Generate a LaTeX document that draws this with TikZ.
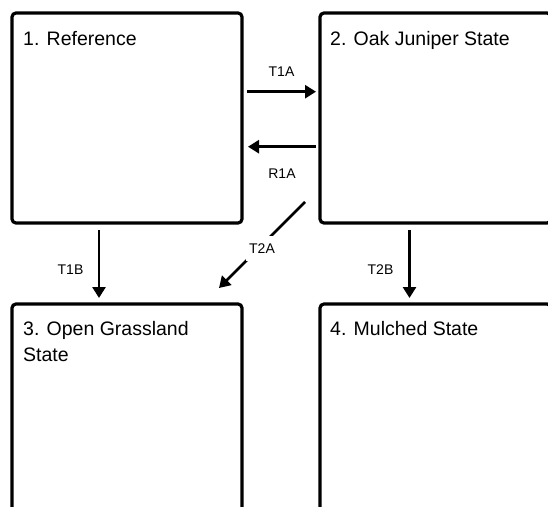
\documentclass[tikz,border=0pt]{standalone}
\usepackage{fontspec}
\setmainfont{Liberation Sans}
\usetikzlibrary{arrows.meta}
\tikzset{
  statebox/.style={draw=black, line width=3.2pt, rounded corners=4pt, rectangle,
    minimum width=230pt, minimum height=210pt, inner sep=0pt, outer sep=0pt},
  title/.style={anchor=north west, inner sep=0pt, align=left,
    font=\fontsize{19.5}{26}\selectfont},
  arr/.style={line width=2.6pt, -{Triangle[length=11pt,width=13pt]}},
  lbl/.style={font=\fontsize{14}{16}\selectfont, inner sep=0pt}
}
\begin{document}
\begin{tikzpicture}[x=1pt, y=-1pt]
\useasboundingbox (0,0) rectangle (548,506);
\clip (0,0) rectangle (548,506);
\fill[white] (0,0) rectangle (548,506);
% boxes
\node[statebox] (b1) at (127,118) {};
\node[statebox, minimum width=231pt] (b2) at (435.5,118) {};
\node[statebox] (b3) at (127,409) {};
\node[statebox, minimum width=231pt] (b4) at (435.5,409) {};
% titles
\node[title] (t1) at ([shift={(11,18)}]b1.north west) {1. Reference};
\node[title] (t2) at ([shift={(10,18)}]b2.north west) {2. Oak Juniper State};
\node[title] (t3) at ([shift={(11,17)}]b3.north west) {3. Open Grassland\\State};
\node[title] (t4) at ([shift={(10,17)}]b4.north west) {4. Mulched State};
% connectors
\draw[arr] ([shift={(5,78.7)}]b1.north east) -- ([shift={(-4,78.7)}]b2.north west)
  node[lbl, midway, anchor=base, yshift=15.7pt] (l1) {T1A};
\draw[arr] ([shift={(-4,133.7)}]b2.north west) -- ([shift={(6,133.7)}]b1.north east)
  node[lbl, midway, anchor=base, yshift=-31.3pt] (l2) {R1A};
\draw[arr] ([shift={(-15,189)}]b2.north west) -- ([shift={(-23,-16)}]b3.north east)
  node[lbl, midway, fill=white, inner xsep=3pt, inner ysep=8pt, yshift=-3.5pt] (l3) {T2A};
\draw[arr] ([shift={(87,7)}]b1.south west) -- ([shift={(87,-6)}]b3.north west)
  node[lbl, midway, anchor=base, xshift=-28.5pt, yshift=-10pt] (l4) {T1B};
\draw[arr] ([shift={(89.5,7)}]b2.south west) -- ([shift={(89.5,-6)}]b4.north west)
  node[lbl, midway, anchor=base, xshift=-29pt, yshift=-10pt] (l5) {T2B};
\end{tikzpicture}
\end{document}
